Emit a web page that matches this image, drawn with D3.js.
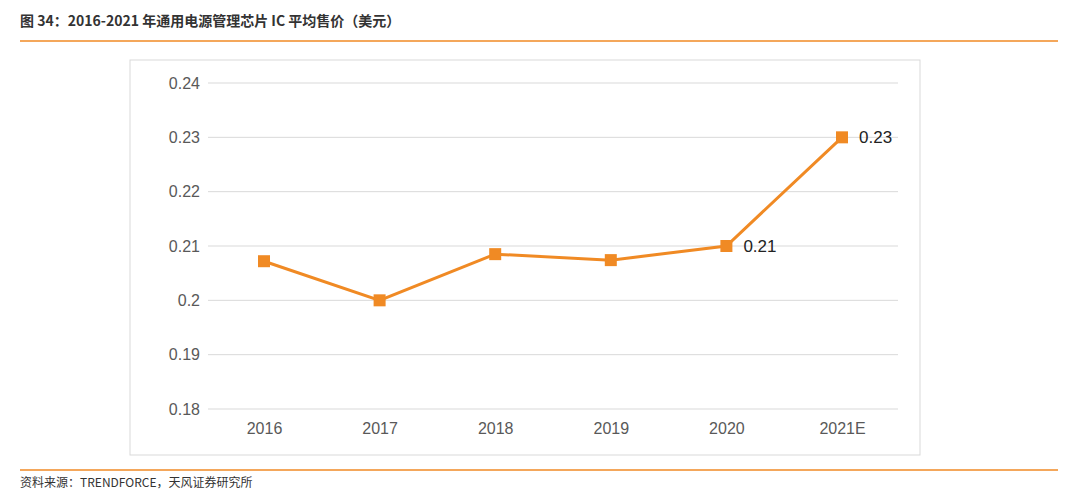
<!DOCTYPE html>
<html><head><meta charset="utf-8">
<script src="https://cdn.jsdelivr.net/npm/d3@7.9.0/dist/d3.min.js"></script>
<style>body{margin:0;background:#fff;font-family:"Noto Sans CJK SC","Noto Sans",sans-serif;}</style>
</head><body>
<svg id="chart" width="1080" height="495"></svg>
<script>
// data
const years = ["2016", "2017", "2018", "2019", "2020", "2021E"];
const prices = [0.2072, 0.2000, 0.2085, 0.2074, 0.2100, 0.2300];
const labelled = ["2020", "2021E"];
const yTicks = [0.18, 0.19, 0.2, 0.21, 0.22, 0.23, 0.24];

const svg = d3.select("#chart");
const orange = "#f08a24";

// header
svg.append("text").attr("x", 20).attr("y", 26)
  .attr("font-size", 14).attr("font-weight", "bold").attr("fill", "#333")
  .text("图 34：2016-2021 年通用电源管理芯片 IC 平均售价（美元）");
svg.append("line").attr("x1", 20).attr("x2", 1058).attr("y1", 41).attr("y2", 41)
  .attr("stroke", orange).attr("stroke-width", 1.5);

// footer
svg.append("line").attr("x1", 20).attr("x2", 1058).attr("y1", 470).attr("y2", 470)
  .attr("stroke", orange).attr("stroke-width", 1.5);
svg.append("text").attr("x", 20).attr("y", 487)
  .attr("font-size", 12).attr("fill", "#333")
  .text("资料来源：TRENDFORCE，天风证券研究所");

// frame
svg.append("rect").attr("x", 130).attr("y", 60).attr("width", 790).attr("height", 395)
  .attr("fill", "none").attr("stroke", "#d9d9d9");

const x = d3.scalePoint().domain(years).range([264, 842]);
const y = d3.scaleLinear().domain([0.18, 0.24]).range([409, 83]);

const grid = svg.append("g");
grid.selectAll("line").data(yTicks).join("line")
  .attr("x1", 208).attr("x2", 898)
  .attr("y1", d => y(d)).attr("y2", d => y(d))
  .attr("stroke", "#d9d9d9");

const yAxis = svg.append("g").attr("transform", "translate(208,0)")
  .call(d3.axisLeft(y).tickValues(yTicks).tickSize(0).tickPadding(8).tickFormat(d3.format("")));
yAxis.select(".domain").remove();
yAxis.selectAll("text").attr("font-size", 16).attr("fill", "#595959")
  .attr("font-family", "Liberation Sans, Arial");

const xAxis = svg.append("g").attr("transform", "translate(0,409)")
  .call(d3.axisBottom(x).tickSize(0).tickPadding(14));
xAxis.select(".domain").remove();
xAxis.selectAll("text").attr("font-size", 16).attr("fill", "#595959")
  .attr("font-family", "Liberation Sans, Arial");

const pts = years.map((yr, i) => ({ yr, v: prices[i] }));

svg.append("path").datum(pts)
  .attr("fill", "none").attr("stroke", orange).attr("stroke-width", 3)
  .attr("d", d3.line().x(d => x(d.yr)).y(d => y(d.v)));

svg.selectAll("rect.pt").data(pts).join("rect").attr("class", "pt")
  .attr("x", d => x(d.yr) - 6).attr("y", d => y(d.v) - 6)
  .attr("width", 12).attr("height", 12).attr("fill", orange);

svg.selectAll("text.lbl").data(pts.filter(d => labelled.includes(d.yr))).join("text")
  .attr("class", "lbl")
  .attr("x", d => x(d.yr) + 17).attr("y", d => y(d.v) + 6)
  .attr("font-size", 17).attr("fill", "#222").attr("font-family", "Liberation Sans, Arial")
  .text(d => d3.format(".2f")(d.v));
</script>
</body></html>
